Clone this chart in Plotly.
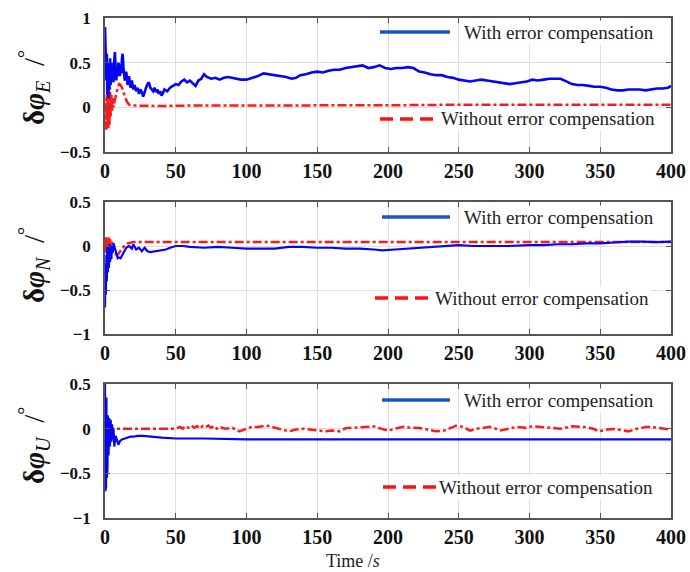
import plotly.graph_objects as go

# ---------------- data (time in s, error in degrees) ----------------
time_ticks = [0, 50, 100, 150, 200, 250, 300, 350, 400]
ytick_top = [-0.5, 0, 0.5, 1]
ytick_low = [-1, -0.5, 0, 0.5]
legend_with = "With error compensation"
legend_without = "Without error compensation"
x_title = "Time /<i>s</i>"
panel_subs = ["E", "N", "U"]

E_with = [
    (0, 0.90), (0.3, 0.55), (0.6, 0.80), (1, 0.30), (1.3, 0.60), (1.6, 0.15), (2, 0.50),
    (2.4, 0.10), (2.8, 0.45), (3.2, 0.20), (3.6, 0.55), (4, 0.25), (4.5, 0.50), (5, 0.30),
    (5.5, 0.45), (6, 0.28), (6.5, 0.50), (7, 0.62), (7.5, 0.45), (8, 0.30), (8.5, 0.42),
    (9, 0.35), (9.5, 0.50), (10, 0.40), (10.5, 0.35), (11, 0.48), (11.5, 0.38), (12, 0.55),
    (12.5, 0.60), (13, 0.45), (13.5, 0.35), (14, 0.30), (15, 0.40), (16, 0.25), (17, 0.35),
    (18, 0.22), (19, 0.30), (20, 0.20), (21, 0.25), (22, 0.18), (23, 0.22), (24, 0.15),
    (25, 0.20), (26, 0.17), (27, 0.12), (28, 0.18), (29, 0.22), (30, 0.26), (31, 0.28),
    (32, 0.22), (33, 0.20), (34, 0.18), (35, 0.22), (36, 0.17), (37, 0.20), (38, 0.15),
    (39, 0.18), (40, 0.13), (41, 0.16), (42, 0.20), (44, 0.18), (46, 0.22), (48, 0.24),
    (50, 0.26), (52, 0.25), (54, 0.29), (56, 0.31), (58, 0.28), (60, 0.30), (62, 0.27),
    (64, 0.24), (66, 0.30), (68, 0.32), (70, 0.37), (72, 0.34), (75, 0.32), (78, 0.33),
    (81, 0.31), (84, 0.33), (87, 0.34), (90, 0.33), (93, 0.32), (96, 0.31), (100, 0.31),
    (104, 0.33), (108, 0.35), (112, 0.38), (116, 0.37), (120, 0.36), (124, 0.35),
    (128, 0.34), (132, 0.32), (135, 0.33), (138, 0.36), (142, 0.37), (146, 0.39),
    (150, 0.40), (154, 0.39), (158, 0.41), (162, 0.42), (166, 0.42), (170, 0.44),
    (174, 0.45), (178, 0.46), (182, 0.47), (186, 0.44), (190, 0.45), (194, 0.47),
    (198, 0.44), (202, 0.43), (206, 0.44), (210, 0.44), (214, 0.45), (218, 0.44),
    (222, 0.40), (226, 0.39), (230, 0.37), (234, 0.36), (238, 0.36), (242, 0.34),
    (246, 0.33), (250, 0.31), (254, 0.30), (258, 0.29), (262, 0.30), (266, 0.31),
    (270, 0.30), (274, 0.29), (278, 0.28), (282, 0.27), (286, 0.26), (290, 0.27),
    (294, 0.28), (298, 0.29), (302, 0.31), (306, 0.30), (310, 0.31), (314, 0.32),
    (318, 0.32), (322, 0.32), (326, 0.29), (330, 0.26), (334, 0.25), (338, 0.25),
    (342, 0.24), (346, 0.23), (350, 0.23), (354, 0.22), (358, 0.20), (362, 0.19),
    (366, 0.19), (370, 0.20), (374, 0.20), (378, 0.20), (382, 0.19), (386, 0.20),
    (390, 0.21), (394, 0.21), (398, 0.22), (400, 0.24),
]
E_without = [
    (0, 0.05), (0.3, -0.20), (0.6, 0.10), (1, -0.25), (1.3, 0.15), (1.6, -0.15), (2, 0.20),
    (2.4, -0.25), (2.8, 0.05), (3.2, -0.20), (3.6, 0.22), (4, -0.10), (4.5, 0.15),
    (5, -0.05), (5.5, 0.10), (6, 0.00), (6.5, 0.05), (7, 0.10), (8, 0.15), (9, 0.22),
    (10, 0.26), (11, 0.25), (12, 0.22), (13, 0.17), (14, 0.12), (15, 0.08), (16, 0.05),
    (17, 0.03), (18, 0.025), (20, 0.02), (40, 0.015), (60, 0.02), (100, 0.02),
    (150, 0.02), (200, 0.02), (220, 0.025), (250, 0.03), (300, 0.03), (350, 0.03),
    (400, 0.03),
]
N_with = [
    (0, -0.70), (0.3, -0.20), (0.6, -0.55), (1, -0.10), (1.3, -0.40), (1.6, 0.00),
    (2, -0.30), (2.4, -0.05), (2.8, -0.25), (3.2, 0.02), (3.6, -0.18), (4, -0.02),
    (4.5, -0.15), (5, 0.00), (5.5, -0.08), (6, 0.03), (7, -0.04), (8, -0.08), (9, -0.14),
    (10, -0.13), (11, -0.14), (12, -0.11), (13, -0.08), (14, -0.04), (15, -0.02),
    (17, 0.00), (19, -0.03), (20, 0.02), (22, -0.04), (24, -0.02), (26, -0.06),
    (28, -0.02), (30, -0.06), (32, -0.07), (35, -0.06), (38, -0.05), (40, -0.05),
    (43, -0.04), (46, -0.02), (50, 0.00), (55, 0.00), (60, -0.01), (70, -0.02),
    (80, -0.01), (90, -0.02), (100, -0.03), (110, -0.03), (120, -0.03), (130, -0.01),
    (140, -0.01), (150, -0.02), (160, -0.02), (170, -0.03), (180, -0.03), (190, -0.04),
    (196, -0.05), (205, -0.04), (215, -0.03), (230, -0.01), (250, 0.01), (260, 0.00),
    (270, 0.00), (285, 0.00), (300, 0.01), (310, 0.01), (320, 0.02), (330, 0.02),
    (340, 0.03), (350, 0.03), (360, 0.04), (370, 0.05), (380, 0.05), (390, 0.045),
    (400, 0.05),
]
N_without = [
    (0, 0.10), (0.3, -0.05), (0.6, 0.10), (1, -0.08), (1.5, 0.08), (2, -0.05), (2.5, 0.10),
    (3, -0.03), (3.5, 0.08), (4, 0.00), (5, 0.05), (6, -0.05), (7, -0.08), (8, -0.10),
    (9, -0.10), (10, -0.08), (12, -0.03), (14, 0.01), (16, 0.03), (18, 0.04), (20, 0.045),
    (50, 0.045), (100, 0.045), (150, 0.045), (200, 0.045), (250, 0.045), (300, 0.045),
    (350, 0.045), (400, 0.045),
]
U_with = [
    (0, 0.50), (0.25, -0.70), (0.5, 0.45), (0.75, -0.65), (1, 0.35), (1.25, -0.55),
    (1.5, 0.30), (1.75, -0.45), (2, 0.15), (2.5, -0.30), (3, 0.12), (3.5, -0.20),
    (4, 0.10), (4.5, -0.15), (5, 0.05), (5.5, -0.12), (6, 0.00), (6.6, -0.20),
    (7.5, -0.08), (8.5, -0.14), (9.5, -0.18), (10.5, -0.14), (12, -0.12), (14, -0.11),
    (16, -0.10), (18, -0.09), (20, -0.09), (23, -0.08), (27, -0.08), (32, -0.09),
    (40, -0.10), (50, -0.11), (70, -0.11), (100, -0.12), (150, -0.12), (200, -0.12),
    (250, -0.12), (300, -0.12), (350, -0.12), (400, -0.12),
]
U_without = [
    (0, 0.00), (10, 0.00), (20, 0.00), (30, 0.00), (40, 0.00), (50, 0.00), (53, 0.02),
    (55, 0.00), (57, 0.03), (59, 0.01), (61, 0.035), (63, 0.01), (65, 0.03), (67, 0.00),
    (69, 0.03), (71, 0.015), (73, 0.035), (75, 0.01), (77, 0.03), (79, 0.00), (81, 0.02),
    (85, 0.00), (90, 0.01), (95, -0.03), (100, 0.00), (104, 0.02), (108, 0.02),
    (114, 0.035), (118, 0.02), (121, 0.01), (125, -0.01), (130, -0.03), (135, -0.01),
    (140, 0.00), (145, -0.01), (152, -0.03), (156, -0.03), (160, -0.02), (166, -0.03),
    (170, 0.005), (175, 0.01), (180, 0.02), (185, 0.02), (190, 0.026), (195, 0.00),
    (200, -0.022), (205, 0.00), (211, 0.02), (216, 0.01), (222, 0.007), (228, -0.01),
    (234, -0.03), (240, -0.02), (244, 0.01), (248, 0.033), (253, 0.02), (258, -0.022),
    (263, 0.00), (268, 0.01), (272, 0.02), (276, 0.00), (279, -0.022), (285, 0.00),
    (291, 0.02), (297, 0.01), (302, 0.026), (308, 0.02), (316, 0.007), (322, 0.00),
    (330, 0.026), (335, 0.02), (340, 0.018), (345, 0.00), (349, -0.03), (355, -0.01),
    (361, -0.004), (366, -0.02), (370, -0.03), (376, 0.00), (382, 0.018), (386, 0.02),
    (391, 0.007), (396, 0.00), (400, -0.011),
]

# ---------------- figure ----------------
SERIF = "Liberation Serif"
BLUE = "#0505f5"
RED = "#ff1a1a"
AX = "#555555"
GRID = "#dedede"

W, H = 690, 572
ML, MR, MT, MB = 105, 19, 18, 54
plot_h = H - MT - MB
plot_w = W - ML - MR

def py2frac(py):
    return (H - MB - py) / plot_h

def fx(px):
    return (px - ML) / plot_w

panel_px = [(18, 152), (202, 334), (384, 518)]
domains = [[py2frac(b), py2frac(t)] for t, b in panel_px]
ranges = [[-0.5, 1], [-1, 0.5], [-1, 0.5]]
yticks = [ytick_top, ytick_low, ytick_low]
series = [(E_with, E_without), (N_with, N_without), (U_with, U_without)]
blue_w = [2.6, 2.2, 2.2]

fig = go.Figure()

def fmt(v):
    s = ("%g" % v)
    return s.replace("-", "\u2212")

for i in range(3):
    xa = "x" if i == 0 else f"x{i+1}"
    ya = "y" if i == 0 else f"y{i+1}"
    w, wo = series[i]
    fig.add_trace(go.Scatter(x=[p[0] for p in wo], y=[p[1] for p in wo], mode="lines",
                             line=dict(color=RED, width=2.5, dash="dashdot"),
                             xaxis=xa, yaxis=ya, showlegend=False))
    fig.add_trace(go.Scatter(x=[p[0] for p in w], y=[p[1] for p in w], mode="lines",
                             line=dict(color=BLUE, width=blue_w[i]),
                             xaxis=xa, yaxis=ya, showlegend=False))
    axcommon = dict(showline=True, linecolor=AX, linewidth=1.5, mirror="ticks",
                    ticks="inside", ticklen=5, tickcolor=AX, tickwidth=1,
                    showgrid=True, gridcolor=GRID, gridwidth=1, zeroline=False,
                    automargin=False)
    xkey = "xaxis" if i == 0 else f"xaxis{i+1}"
    ykey = "yaxis" if i == 0 else f"yaxis{i+1}"
    fig.update_layout(**{
        xkey: dict(domain=[0, 1], anchor=ya, range=[0, 400], tickvals=time_ticks,
                   ticktext=[f"<b>{t}</b>" for t in time_ticks],
                   tickfont=dict(family=SERIF, size=20, color="#111"),
                   **axcommon),
        ykey: dict(domain=domains[i], anchor=xa, range=ranges[i], tickvals=yticks[i],
                   ticktext=[f"<b>{fmt(v)}</b>" for v in yticks[i]],
                   ticklabelstandoff=9,
                   tickfont=dict(family=SERIF, size=17, color="#111"),
                   **axcommon),
    })

# y-axis titles
ytitle_centers = [88, 265, 446]
for i in range(3):
    fig.add_annotation(
        xref="paper", yref="paper", x=fx(34), y=py2frac(ytitle_centers[i]),
        text=f"<b>\u03b4<i>\u03c6</i></b><sub><i>{panel_subs[i]}</i></sub>\u00a0\u00a0/<sup>\u00b0</sup>",
        textangle=-90, showarrow=False, xanchor="center", yanchor="middle",
        font=dict(family=SERIF, size=29, color="#111"))

# x-axis title
fig.add_annotation(xref="paper", yref="paper", x=fx(353), y=py2frac(561),
                   text=x_title, showarrow=False, xanchor="center", yanchor="middle",
                   font=dict(family=SERIF, size=18, color="#222"))

# legend entries per panel (pixel positions)
leg = [
    # (with_y, with_line_x0, with_line_x1, with_text_x, wo_y, wo_x0, wo_x1, wo_text_x)
    (32, 380, 450, 462, 119, 380, 437, 439),
    (217, 382, 450, 462, 298, 375, 430, 433),
    (400, 382, 450, 462, 487, 383, 437, 437),
]

shapes = []
for i in range(3):
    wy, wx0, wx1, wtx, oy, ox0, ox1, otx = leg[i]
    shapes.append(dict(type="line", xref="paper", yref="paper",
                       x0=fx(wx0), x1=fx(wx1), y0=py2frac(wy), y1=py2frac(wy),
                       line=dict(color="#1a56c8", width=3.5)))
    shapes.append(dict(type="line", xref="paper", yref="paper",
                       x0=fx(ox0), x1=fx(ox1), y0=py2frac(oy), y1=py2frac(oy),
                       line=dict(color="#ff1010", width=3.5, dash="13px,7px")))
    fig.add_annotation(xref="paper", yref="paper", x=fx(wtx), y=py2frac(wy),
                       text=legend_with, showarrow=False, xanchor="left", yanchor="middle",
                       bgcolor="white", borderpad=1,
                       font=dict(family=SERIF, size=19, color="#222"))
    fig.add_annotation(xref="paper", yref="paper", x=fx(otx), y=py2frac(oy),
                       text=legend_without, showarrow=False, xanchor="left", yanchor="middle",
                       bgcolor="white", borderpad=1,
                       font=dict(family=SERIF, size=19, color="#222"))

fig.update_layout(shapes=shapes, width=W, height=H,
                  margin=dict(l=ML, r=MR, t=MT, b=MB, autoexpand=False),
                  paper_bgcolor="white", plot_bgcolor="white", showlegend=False)

fig.write_html("out.html", config={"displayModeBar": False},
               post_script="document.body.style.margin='0';document.body.style.overflow='hidden';")
